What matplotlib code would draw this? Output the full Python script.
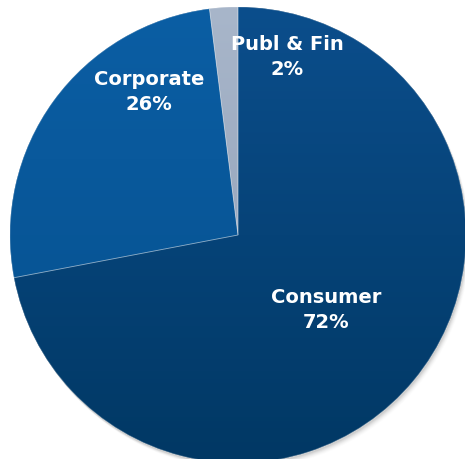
import numpy as np
import matplotlib
matplotlib.use("Agg")
import matplotlib.pyplot as plt
from matplotlib.patches import Wedge
from matplotlib.colors import LinearSegmentedColormap

segments = ["Consumer", "Corporate", "Publ & Fin"]
shares = [72, 26, 2]
top_colors = ["#0b4e8c", "#0b5ea4", "#a8b6ca"]
bottom_colors = ["#013864", "#054f8c", "#8c9cb4"]

W, H = 465, 459
fig = plt.figure(figsize=(W / 100, H / 100), dpi=100)
ax = fig.add_axes([0, 0, 1, 1])

cx, cy, r = 238, 224, 228

# soft drop shadow under the lower right rim
for i, a in enumerate(np.linspace(0.05, 0.012, 6)):
    sh = plt.Circle((cx + 1 + i * 0.6, cy - 2 - i * 0.8), r, color="#000000", alpha=a, lw=0)
    ax.add_patch(sh)

wedges, _ = ax.pie(shares, startangle=90, counterclock=False,
                   center=(cx, cy), radius=r, frame=True,
                   wedgeprops=dict(linewidth=0))

grad = np.linspace(0, 1, 256).reshape(-1, 1)
for w, ct, cb in zip(wedges, top_colors, bottom_colors):
    w.set_facecolor(cb)
    cmap = LinearSegmentedColormap.from_list("g", [cb, ct])
    im = ax.imshow(grad, cmap=cmap, origin="lower", aspect="auto",
                   extent=(cx - r, cx + r, cy - r, cy + r), zorder=3)
    im.set_clip_path(w)
    edge = Wedge((cx, cy), r, w.theta1, w.theta2, fill=False,
                 lw=0.6, edgecolor=(1, 1, 1, 0.3), zorder=5)
    ax.add_patch(edge)

ax.set_xlim(0, W)
ax.set_ylim(0, H)
ax.set_aspect("equal")
ax.axis("off")

label_pos = [(326, H - 310), (149, H - 92), (287, H - 57)]
for name, v, (x, y) in zip(segments, shares, label_pos):
    ax.text(x, y, f"{name}\n{v}%", ha="center", va="center", color="white",
            fontsize=14, fontweight="bold", family="DejaVu Sans",
            linespacing=1.45, zorder=10)

fig.savefig("out.png", dpi=100)
